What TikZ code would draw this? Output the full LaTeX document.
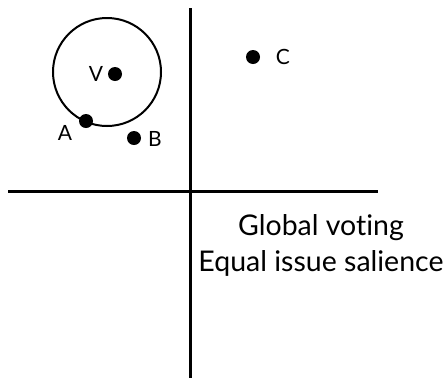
\documentclass[tikz,border=0pt]{standalone}
\usepackage{fontspec}
\setmainfont[Ligatures={NoCommon}]{Lato}
\begin{document}
\begin{tikzpicture}[x=1pt,y=-1pt,
  dot/.style={circle,fill=black,inner sep=0pt,minimum size=14pt},
  lbl/.style={font=\fontsize{21}{23}\selectfont,inner sep=0pt},
  axis/.style={line width=3pt},
  big/.style={font=\fontsize{28.5}{36}\selectfont,align=center,inner sep=0pt}]
\useasboundingbox (0,0) rectangle (446,381);
\coordinate (top) at (190,8);
\coordinate (bot) at (190,378);
\coordinate (left) at (8,191);
\coordinate (right) at (378,191);
\draw[axis] (top) -- (bot);
\draw[axis] (left) -- (right);
\node[circle,draw,line width=2pt,minimum size=108pt,inner sep=0pt] (circ) at (107,72) {};
\node[dot] (V) at (115,74) {};
\node[lbl] (Vl) at (96,74) {V};
\node[dot] (A) at (86,121) {};
\node[lbl] (Al) at (65,133) {A};
\node[dot] (B) at (134,138) {};
\node[lbl] (Bl) at (155,139) {B};
\node[dot] (C) at (253,57) {};
\node[lbl] (Cl) at (283,57) {C};
\node[big] (txt) at (321,245) {Global voting\\Equal issue salience};
\end{tikzpicture}
\end{document}
